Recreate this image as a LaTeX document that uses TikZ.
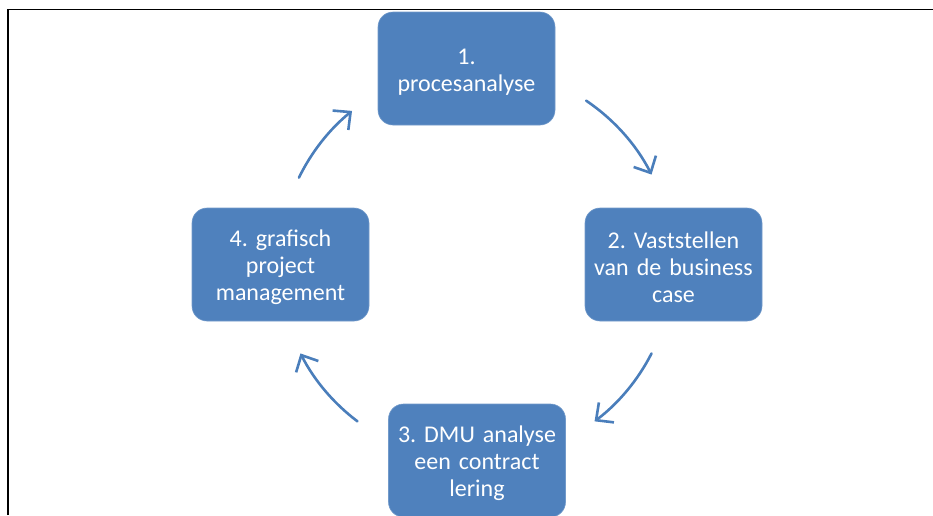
\documentclass[tikz,border=0pt]{standalone}
\usepackage{fontspec}
\setmainfont{Carlito}
\usetikzlibrary{arrows.meta}
\definecolor{stepblue}{HTML}{4F81BD}
\definecolor{arrowblue}{HTML}{4A7EBB}
\frenchspacing
\tikzset{
  stepbox/.style={rectangle, rounded corners=15pt, fill=stepblue, draw=stepblue!80!white,
    line width=0.6pt, minimum width=177pt, minimum height=113pt, text width=170pt,
    align=center, text=white, inner sep=0pt,
    font=\fontsize{24}{27}\selectfont,
    execute at begin node={\rule{0pt}{22pt}}},
  cyclearrow/.style={draw=arrowblue, line width=2.6pt, line cap=round,
    -{Straight Barb[length=13pt, width=25pt, line width=2.6pt]}}
}
\begin{document}
\begin{tikzpicture}[x=1pt, y=-1pt]
  \useasboundingbox (0,0) rectangle (933,515);
  \clip (0,0) rectangle (933,515);
  % page frame
  \draw[line width=1.6pt] (8,515) -- (8,9.5) -- (933,9.5);
  % the four steps
  \node[stepbox] (s1) at (466.5,68.5) {1.\\procesanalyse};
  \node[stepbox] (s2) at (673.5,264.5) {2. Vaststellen\\van de business\\case};
  \node[stepbox] (s3) at (477,460.5) {3. DMU analyse\\een contract\\lering};
  \node[stepbox] (s4) at (280.5,264.5) {4. grafisch\\project\\management};
  % centre of the cycle
  \coordinate (c) at (476,264);
  \coordinate (a1s) at ([shift={(-56:197)}]c);
  \coordinate (a2s) at ([shift={(27:197)}]c);
  \coordinate (a3s) at ([shift={(127:197)}]c);
  \coordinate (a4s) at ([shift={(-154:197)}]c);
  \draw[cyclearrow] (a1s) arc[start angle=-56, end angle=-27, radius=197];
  \draw[cyclearrow] (a2s) arc[start angle=27, end angle=53, radius=197];
  \draw[cyclearrow] (a3s) arc[start angle=127, end angle=153, radius=197];
  \draw[cyclearrow] (a4s) arc[start angle=-154, end angle=-129, radius=197];
\end{tikzpicture}
\end{document}
